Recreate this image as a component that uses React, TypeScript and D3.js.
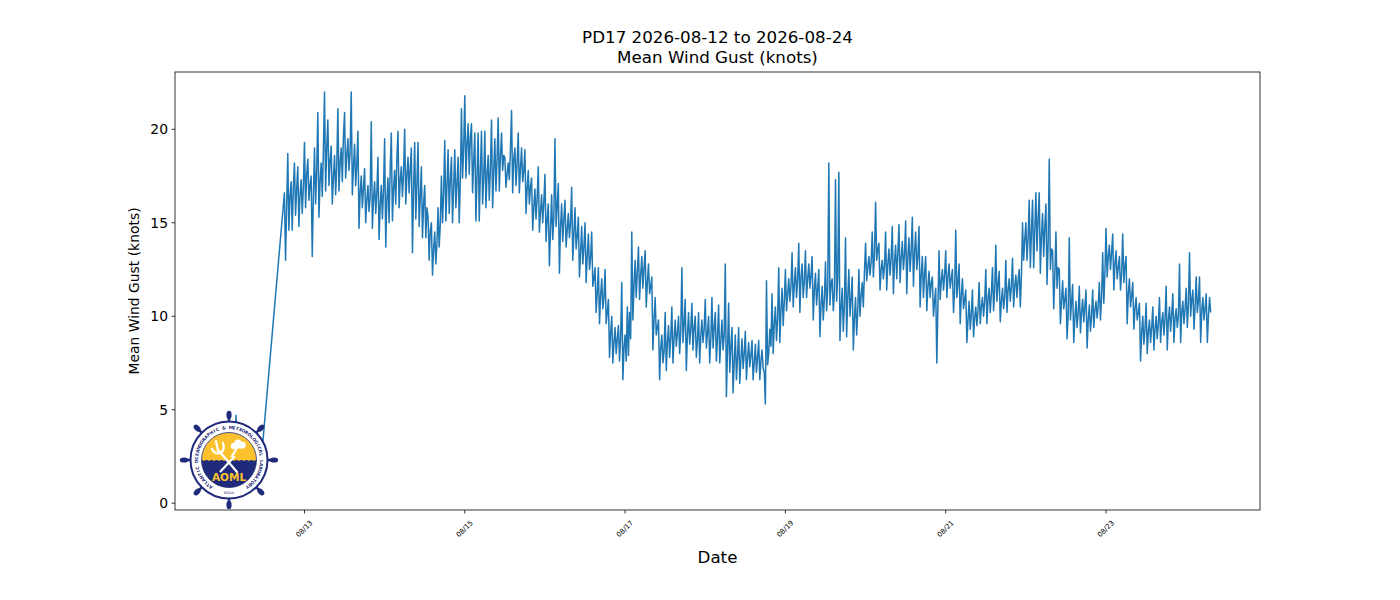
import * as d3 from "d3";

const title1 = "PD17 2026-08-12 to 2026-08-24";
const title2 = "Mean Wind Gust (knots)";
const yLabel = "Mean Wind Gust (knots)";
const xLabel = "Date";
const ringLabel = "ATLANTIC OCEANOGRAPHIC & METEOROLOGICAL LABORATORY";

// gust readings (knots); each list starts at the day/hour given in `segments`
// first list every 30 min, the rest every 20 min
const gustEarly = [2.0, 2.4, 1.6, 1.9, 2.8, 3.1, 2.2, 4.7, 2.6, 1.8, 1.2, 0.7, 1.1, 1.5, 2.0, 2.6, 1.9, 2.4, 3.0, 2.8, 3.4, 3.2, 3.0, 3.2];
const gust0812 = [16.6, 13.0, 15.8, 18.7, 14.6, 16.4, 17.2, 14.6, 16.9, 18.2, 15.4, 16.8, 18.0, 14.8, 16.5, 17.3, 15.5, 16.9];
const gust0813 = [
    19.3, 15.8, 17.6, 18.4, 16.2, 17.0, 17.5, 13.2, 16.4, 19.0, 16.0, 17.8, 20.9, 15.3, 17.2, 18.2, 16.4, 18.9,
    22.0, 16.7, 19.0, 20.5, 17.0, 18.3, 19.1, 16.0, 17.4, 18.6, 16.5, 18.0, 21.1, 16.7, 18.2, 19.0, 17.2, 19.6,
    20.9, 17.4, 18.6, 19.5, 17.8, 18.8, 22.0, 16.5, 18.0, 19.2, 17.0, 18.1, 19.9, 14.7, 16.6, 17.5, 15.8, 16.9,
    17.9, 15.0, 16.2, 17.0, 15.6, 16.4, 20.4, 14.7, 16.3, 17.2, 15.5, 16.6, 18.5, 14.1, 15.9, 17.0, 15.2, 16.8];
const gust0814 = [
    19.5, 13.7, 16.2, 17.4, 15.0, 17.9, 19.8, 15.1, 16.8, 17.8, 16.0, 18.4, 19.9, 15.8, 17.3, 18.0, 16.4, 17.7,
    20.0, 16.0, 17.5, 18.5, 16.6, 17.9, 19.0, 13.4, 16.8, 19.3, 15.2, 17.1, 19.3, 14.8, 16.4, 18.0, 14.2, 16.0,
    17.0, 14.2, 15.8, 15.3, 13.0, 14.6, 15.0, 12.2, 13.6, 14.5, 12.8, 13.9, 15.8, 13.7, 14.9, 17.5, 15.0, 16.6,
    19.4, 15.1, 17.0, 18.9, 15.5, 17.3, 18.5, 15.0, 16.9, 18.9, 15.8, 17.1, 18.5, 15.0, 17.2, 21.1, 17.4, 19.0];
const gust0815 = [
    21.8, 17.4, 19.2, 20.3, 17.6, 19.6, 20.3, 16.6, 18.3, 19.8, 15.1, 17.5, 19.8, 15.1, 17.7, 19.9, 16.0, 17.4,
    19.9, 15.8, 17.6, 18.6, 16.2, 17.9, 20.5, 15.8, 17.8, 19.5, 16.7, 18.4, 20.6, 16.7, 18.5, 19.8, 17.8, 18.6,
    18.5, 16.9, 17.6, 18.2, 17.3, 18.9, 21.0, 16.6, 18.4, 19.0, 17.0, 18.2, 19.8, 16.6, 17.9, 19.0, 17.2, 17.8,
    18.9, 15.5, 16.8, 17.8, 16.0, 16.9, 17.4, 14.6, 15.8, 16.8, 15.2, 16.3, 18.0, 14.5, 15.6, 16.5, 15.0, 16.1];
const gust0816 = [
    17.6, 14.0, 15.2, 16.0, 12.7, 14.6, 16.5, 14.1, 15.3, 19.5, 14.8, 15.9, 17.1, 12.3, 14.8, 16.0, 14.0, 15.2,
    16.2, 13.7, 14.6, 15.5, 14.2, 15.0, 16.9, 13.0, 14.4, 15.8, 13.6, 14.3, 15.3, 12.1, 13.4, 14.8, 12.8, 13.7,
    15.0, 11.8, 13.2, 14.4, 12.5, 13.1, 14.5, 11.6, 12.0, 12.6, 10.2, 11.3, 12.6, 9.6, 11.1, 12.0, 10.4, 11.0,
    12.5, 9.6, 10.2, 10.9, 7.8, 9.1, 10.0, 7.5, 8.6, 9.4, 8.0, 8.8, 9.5, 7.6, 8.9, 11.8, 6.6, 8.3];
const gust0817 = [
    9.0, 7.6, 10.5, 7.9, 10.2, 8.8, 14.5, 9.8, 11.6, 13.0, 11.0, 12.4, 13.7, 10.9, 12.2, 13.2, 11.5, 12.6,
    13.5, 10.5, 11.8, 12.8, 11.2, 11.6, 12.1, 8.2, 9.8, 11.0, 9.0, 9.4, 9.8, 6.6, 8.3, 9.0, 7.5, 8.1,
    10.2, 7.1, 8.6, 9.5, 7.8, 8.9, 10.5, 7.5, 8.8, 9.8, 8.4, 9.1, 10.0, 8.0, 9.2, 12.6, 8.6, 9.6,
    10.9, 7.1, 9.0, 10.2, 8.5, 9.3, 10.7, 8.2, 9.4, 10.0, 7.8, 8.7, 10.2, 7.5, 8.9, 9.8, 8.6, 9.3];
const gust0818 = [
    10.9, 8.3, 9.1, 10.0, 7.5, 8.8, 11.0, 8.3, 9.4, 10.2, 7.6, 8.9, 10.6, 7.5, 8.7, 9.8, 8.2, 9.0,
    12.8, 5.7, 8.2, 10.7, 7.0, 8.4, 9.4, 5.9, 7.6, 9.0, 6.6, 7.8, 9.4, 6.4, 7.7, 8.8, 7.2, 8.0,
    9.2, 6.6, 7.8, 8.6, 7.3, 7.9, 8.7, 6.6, 7.5, 8.5, 7.0, 7.8, 8.7, 6.6, 7.6, 8.2, 7.2, 7.0,
    5.3, 11.9, 7.4, 8.0, 9.3, 8.4, 11.2, 8.0, 9.6, 10.5, 8.7, 9.9, 12.6, 8.6, 10.3, 11.5, 9.5, 10.8];
const gust0819 = [
    12.5, 10.3, 11.2, 12.0, 10.8, 11.6, 13.4, 10.5, 11.7, 12.6, 11.0, 12.0, 13.9, 10.2, 12.1, 12.8, 11.0, 11.9,
    13.5, 11.0, 12.0, 12.8, 11.5, 12.2, 13.2, 9.8, 11.4, 12.3, 10.6, 11.5, 12.5, 8.9, 10.6, 11.6, 9.8, 10.9,
    12.9, 10.3, 11.5, 18.2, 10.6, 11.8, 12.0, 10.3, 11.2, 17.3, 10.8, 12.1, 17.7, 8.7, 10.4, 11.5, 9.2, 10.6,
    14.2, 8.9, 11.0, 12.5, 10.0, 10.9, 12.1, 8.2, 9.9, 11.0, 9.0, 10.3, 12.5, 10.0, 11.1, 11.8, 10.5, 12.4];
const gust0820 = [
    13.9, 11.9, 12.6, 13.2, 12.2, 12.9, 14.5, 12.1, 13.3, 16.1, 13.0, 13.6, 13.9, 11.4, 12.5, 13.0, 12.0, 12.7,
    14.5, 11.4, 12.8, 13.6, 12.2, 13.1, 14.8, 11.2, 12.9, 13.8, 12.0, 13.4, 14.9, 11.8, 13.1, 14.0, 12.5, 13.3,
    15.1, 11.2, 13.2, 14.2, 12.4, 13.5, 15.3, 11.6, 13.4, 14.5, 12.5, 13.2, 14.8, 10.5, 12.2, 13.2, 11.0, 12.3,
    13.2, 10.3, 11.6, 12.4, 11.0, 11.8, 12.1, 10.0, 10.8, 11.5, 7.5, 10.6, 13.5, 10.9, 11.9, 12.5, 11.4, 12.2];
const gust0821 = [
    13.5, 11.0, 12.1, 12.8, 11.5, 12.0, 12.5, 10.2, 11.4, 14.6, 11.0, 11.8, 12.8, 9.6, 11.1, 12.0, 10.4, 10.9,
    11.4, 8.6, 9.8, 10.8, 9.3, 10.1, 11.4, 8.9, 9.9, 10.5, 9.5, 10.3, 11.8, 9.6, 10.5, 11.0, 10.0, 10.8,
    12.5, 9.6, 10.9, 11.5, 10.2, 11.2, 12.6, 10.3, 11.4, 13.8, 10.8, 11.7, 12.4, 9.7, 10.8, 11.5, 10.4, 11.0,
    13.0, 10.2, 11.4, 12.0, 10.8, 11.6, 13.1, 10.5, 11.6, 12.2, 11.0, 11.9, 12.5, 10.5, 12.2, 15.0, 13.0, 14.1];
const gust0822 = [
    15.0, 13.0, 14.2, 16.2, 12.6, 14.5, 16.2, 12.6, 14.6, 16.6, 13.5, 15.2, 16.6, 12.3, 14.3, 15.5, 13.2, 14.8,
    16.0, 11.7, 13.9, 18.4, 12.5, 13.6, 13.5, 10.4, 12.2, 14.5, 11.5, 12.6, 12.5, 9.6, 10.8, 11.9, 10.4, 10.9,
    11.5, 8.8, 10.1, 14.2, 9.8, 10.7, 11.7, 8.6, 9.9, 10.8, 9.4, 10.2, 11.6, 9.1, 10.2, 10.9, 9.7, 10.5,
    11.4, 8.3, 9.8, 10.6, 9.2, 10.0, 11.4, 9.4, 10.3, 10.8, 9.9, 10.6, 11.8, 9.8, 11.0, 13.4, 10.7, 12.3];
const gust0823 = [
    14.7, 12.1, 13.2, 13.8, 12.5, 13.4, 14.4, 11.4, 12.8, 13.5, 12.0, 12.6, 13.2, 11.4, 12.3, 14.4, 11.8, 12.7,
    13.2, 9.6, 11.2, 12.0, 10.5, 11.1, 11.8, 9.3, 10.4, 11.0, 9.8, 10.2, 10.7, 7.6, 9.1, 10.0, 8.5, 9.3,
    10.7, 8.0, 9.2, 9.8, 8.6, 9.4, 10.5, 8.2, 9.3, 10.0, 8.8, 9.6, 11.0, 8.6, 9.7, 10.2, 9.0, 9.9,
    11.6, 8.2, 9.8, 10.5, 9.2, 10.1, 11.2, 8.6, 9.9, 10.4, 9.4, 10.0, 12.8, 8.6, 10.2, 10.8, 9.6, 10.4];
const gust0824 = [
    11.5, 9.4, 10.6, 13.4, 10.0, 10.9, 11.4, 9.3, 10.5, 12.1, 10.2, 10.8, 12.1, 8.6, 10.3, 11.0, 9.8, 10.4,
    11.2, 8.6, 10.0, 11.0, 10.2];

// [day of August, start hour, step in minutes, readings]
const segments: [number, number, number, number[]][] = [
    [12, 0, 30, gustEarly], [12, 18, 20, gust0812], [13, 0, 20, gust0813], [14, 0, 20, gust0814],
    [15, 0, 20, gust0815], [16, 0, 20, gust0816], [17, 0, 20, gust0817], [18, 0, 20, gust0818],
    [19, 0, 20, gust0819], [20, 0, 20, gust0820], [21, 0, 20, gust0821], [22, 0, 20, gust0822],
    [23, 0, 20, gust0823], [24, 0, 20, gust0824],
];

const data = segments.flatMap(([day, hour, step, vals]) =>
    vals.map((v, i) => ({ t: new Date(Date.UTC(2026, 7, day, hour) + i * step * 60000), v })));

const width = 1400;
const height = 600;
const margin = { top: 72, right: 140, bottom: 90, left: 175 };
const font = "DejaVu Sans, sans-serif";

function Logo({ cx, cy }: { cx: number, cy: number }) {
    const navy = "#1f2a7a";
    const gold = "#fcc22d";
    const rad = Math.PI / 180;
    let waves = `M ${cx - 30} ${cy + 1}`;
    for (let i = 0; i < 12; i++) waves += " q 2.5 -2.2 5 0";
    waves += ` L ${cx + 30} ${cy + 30} L ${cx - 30} ${cy + 30} Z`;
    // ring lettering, one glyph per text so each keeps its own small box
    const chars = ringLabel.split("");
    const ang = d3.scaleLinear().domain([0, chars.length - 1]).range([-146, 146]);
    return (
        <g>
            <defs>
                <clipPath id="inner"><circle cx={cx} cy={cy} r={27.5} /></clipPath>
            </defs>
            {d3.range(8).map(i => {
                const a = i * 45 * rad;
                const ex = cx + 45 * Math.sin(a), ey = cy - 45 * Math.cos(a);
                return (
                    <g key={i}>
                        <line x1={cx} y1={cy} x2={ex} y2={ey} stroke={navy} strokeWidth={2.4} />
                        <ellipse cx={ex} cy={ey} rx={2.6} ry={4.2} fill={navy}
                            transform={`rotate(${i * 45} ${ex} ${ey})`} />
                    </g>
                );
            })}
            <circle cx={cx} cy={cy} r={38.5} fill="#fff" stroke={navy} strokeWidth={2} />
            {chars.map((c, i) => (
                <text key={i} x={cx} y={cy - 31} textAnchor="middle" fontFamily={font} fontSize={4.4}
                    fontWeight="bold" fill={navy} transform={`rotate(${ang(i)} ${cx} ${cy})`}>{c}</text>
            ))}
            <text x={cx} y={cy + 34} textAnchor="middle" fontFamily={font} fontSize={3.6} fill={navy}>NOAA</text>
            <g clipPath="url(#inner)">
                <circle cx={cx} cy={cy} r={27.5} fill={gold} />
                <path d={waves} fill={navy} />
            </g>
            <circle cx={cx} cy={cy} r={27.5} fill="none" stroke={navy} strokeWidth={0.8} />
            {/* cloud */}
            <g fill="#fff">
                <circle cx={cx + 5} cy={cy - 14} r={3.2} />
                <circle cx={cx + 9} cy={cy - 17} r={3.6} />
                <circle cx={cx + 13.5} cy={cy - 15} r={3.2} />
                <rect x={cx + 4} y={cy - 15} width={12} height={3.5} rx={1.7} />
            </g>
            {/* lightning */}
            <polyline points={`${cx + 8},${cy - 12} ${cx + 3},${cy - 4} ${cx + 5},${cy - 3} ${cx - 9},${cy + 12}`}
                fill="none" stroke="#fff" strokeWidth={2.2} strokeLinejoin="miter" />
            {/* trident */}
            <g stroke="#fff" strokeWidth={2.2} fill="none" strokeLinecap="round">
                <line x1={cx + 8} y1={cy + 12} x2={cx - 10} y2={cy - 9} />
                <path d={`M ${cx - 17} ${cy - 11} Q ${cx - 14} ${cy - 5} ${cx - 8} ${cy - 7} Q ${cx - 4} ${cy - 11} ${cx - 6} ${cy - 17}`} />
                <line x1={cx - 11} y1={cy - 9} x2={cx - 13} y2={cy - 19} />
            </g>
            <text x={cx} y={cy + 20.5} textAnchor="middle" fontFamily={font} fontSize={10.5}
                fontWeight="bold" fill={gold}>AOML</text>
        </g>
    );
}

export default function App() {
    const innerW = width - margin.left - margin.right;
    const innerH = height - margin.top - margin.bottom;

    // matplotlib-style 5% padding on both axes
    const [t0, t1] = d3.extent(data, d => d.t) as [Date, Date];
    const tPad = (+t1 - +t0) * 0.05;
    const x = d3.scaleUtc()
        .domain([new Date(+t0 - tPad), new Date(+t1 + tPad)])
        .range([margin.left, margin.left + innerW]);
    const [v0, v1] = d3.extent(data, d => d.v) as [number, number];
    const vPad = (v1 - v0) * 0.05;
    const y = d3.scaleLinear()
        .domain([v0 - vPad, v1 + vPad])
        .range([margin.top + innerH, margin.top]);

    const line = d3.line<{ t: Date, v: number }>()
        .x(d => x(d.t))
        .y(d => y(d.v));

    const xTicks = x.ticks(d3.utcDay.every(2)!);
    const fmt = d3.utcFormat("%m/%d");
    const yTicks = y.ticks(5);
    const bottom = margin.top + innerH;
    const cxMid = margin.left + innerW / 2;

    return (
        <svg width={width} height={height} style={{ position: "absolute", left: 0, top: 0, background: "#fff" }}>
            <defs>
                <clipPath id="plot">
                    <rect x={margin.left} y={margin.top} width={innerW} height={innerH} />
                </clipPath>
            </defs>
            <rect width={width} height={height} fill="#fff" />
            <path d={line(data)!} fill="none" stroke="#1f77b4" strokeWidth={1.5}
                strokeLinejoin="round" clipPath="url(#plot)" />
            <rect x={margin.left} y={margin.top} width={innerW} height={innerH}
                fill="none" stroke="#000" strokeWidth={0.8} />
            {yTicks.map(t => (
                <g key={t}>
                    <line x1={margin.left - 3.5} x2={margin.left} y1={y(t)} y2={y(t)} stroke="#000" strokeWidth={0.8} />
                    <text x={margin.left - 7} y={y(t)} dy="0.35em" textAnchor="end"
                        fontFamily={font} fontSize={13.9}>{t}</text>
                </g>
            ))}
            {xTicks.map(t => (
                <g key={+t}>
                    <line x1={x(t)} x2={x(t)} y1={bottom} y2={bottom + 3.5} stroke="#000" strokeWidth={0.8} />
                    <text x={x(t)} y={bottom + 19} textAnchor="middle" dominantBaseline="central"
                        transform={`rotate(-45 ${x(t)} ${bottom + 19})`}
                        fontFamily={font} fontSize={7}>{fmt(t)}</text>
                </g>
            ))}
            <text x={cxMid} y={43} textAnchor="middle" fontFamily={font} fontSize={16.7}>{title1}</text>
            <text x={cxMid} y={63} textAnchor="middle" fontFamily={font} fontSize={16.7}>{title2}</text>
            <text transform={`translate(139 ${margin.top + innerH / 2}) rotate(-90)`} textAnchor="middle"
                fontFamily={font} fontSize={13.9}>{yLabel}</text>
            <text x={cxMid} y={563} textAnchor="middle" fontFamily={font} fontSize={16.7}>{xLabel}</text>
            <Logo cx={229} cy={460} />
        </svg>
    );
}
